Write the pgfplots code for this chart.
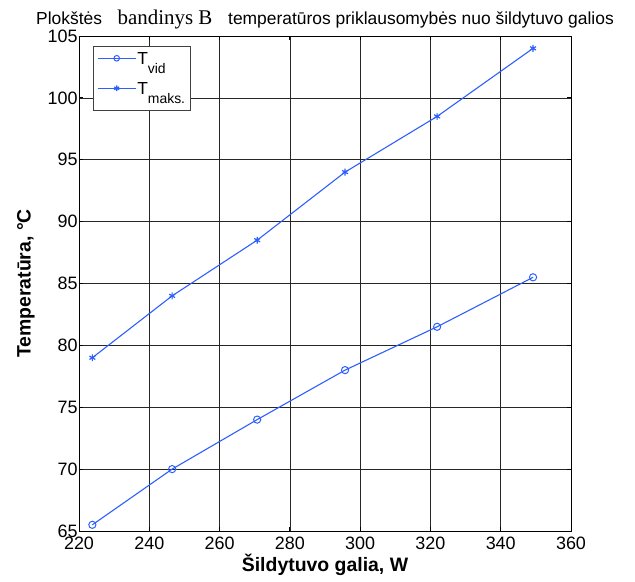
\documentclass[border=0pt]{standalone}
\usepackage{fontspec}
\setmainfont{Liberation Sans}
\newfontfamily\seriffont{Liberation Serif}
\usepackage{pgfplots}
\pgfplotsset{compat=1.18}
\definecolor{mblue}{RGB}{45,95,255}
\newcommand{\lsub}[1]{\raisebox{-0.5em}{\fontsize{14}{15}\selectfont #1}}
\begin{document}
\begin{tikzpicture}[x=1bp,y=1bp]
\begin{axis}[
  scale only axis,
  width=492bp, height=495bp,
  xmin=220, xmax=360, ymin=65, ymax=105,
  xtick={220,240,...,360}, ytick={65,70,...,105},
  grid=major,
  major grid style={black!85, line width=0.7pt},
  axis line style={black, line width=0.8pt},
  tick style={black, line width=0.8pt},
  tick align=inside,
  major tick length=4bp,
  /pgf/number format/assume math mode=true,
  /pgf/number format/1000 sep={},
  ticklabel style={font=\fontsize{18}{20}\selectfont},
  xticklabel style={yshift=-2bp},
  yticklabel style={xshift=2bp},
  xlabel={\bfseries Šildytuvo galia, W},
  ylabel={\bfseries Temperatūra, °C},
  label style={font=\fontsize{19.5}{22}\selectfont},
  xlabel style={yshift=2bp},
  ylabel style={yshift=6bp},
  title={Plokštės\hspace{0.9em}{\seriffont\fontsize{21}{24}\selectfont bandinys B}\hspace{0.9em}temperatūros priklausomybės nuo šildytuvo galios},
  title style={font=\fontsize{17.5}{20}\selectfont, yshift=-3bp},
  legend style={at={(0.028,0.98)}, anchor=north west, draw=black!75, line width=0.8pt,
    font=\fontsize{17.5}{19}\selectfont, row sep=4bp, inner xsep=4bp, inner ysep=4bp,
    nodes={inner sep=1bp, text height=13bp, text depth=11bp}},
  legend cell align=left,
  legend image code/.code={
    \draw[yshift=5bp, mark repeat=2, mark phase=2, #1, mark size=2.8bp]
      plot coordinates {(0bp,0bp) (19bp,0bp) (38bp,0bp)};
  },
]
\addplot[mblue, line width=1.1pt, mark=o, mark size=3.6bp, mark options={solid, line width=1pt}] coordinates {
  (223.8,65.5) (246.5,70) (270.7,74) (295.7,78) (321.9,81.5) (349.2,85.5)
};
\addlegendentry{T\lsub{vid}}
\addplot[mblue, line width=1.1pt, mark=asterisk, mark size=3.4bp, mark options={solid, line width=1.2pt}] coordinates {
  (223.8,79) (246.5,84) (270.7,88.5) (295.7,94) (321.9,98.5) (349.2,104)
};
\addlegendentry{T\lsub{maks.}}
\end{axis}
\pgfresetboundingbox
\useasboundingbox ([xshift=-79bp,yshift=-51bp]current axis.south west) rectangle ([xshift=64bp,yshift=36bp]current axis.north east);
\end{tikzpicture}
\end{document}
